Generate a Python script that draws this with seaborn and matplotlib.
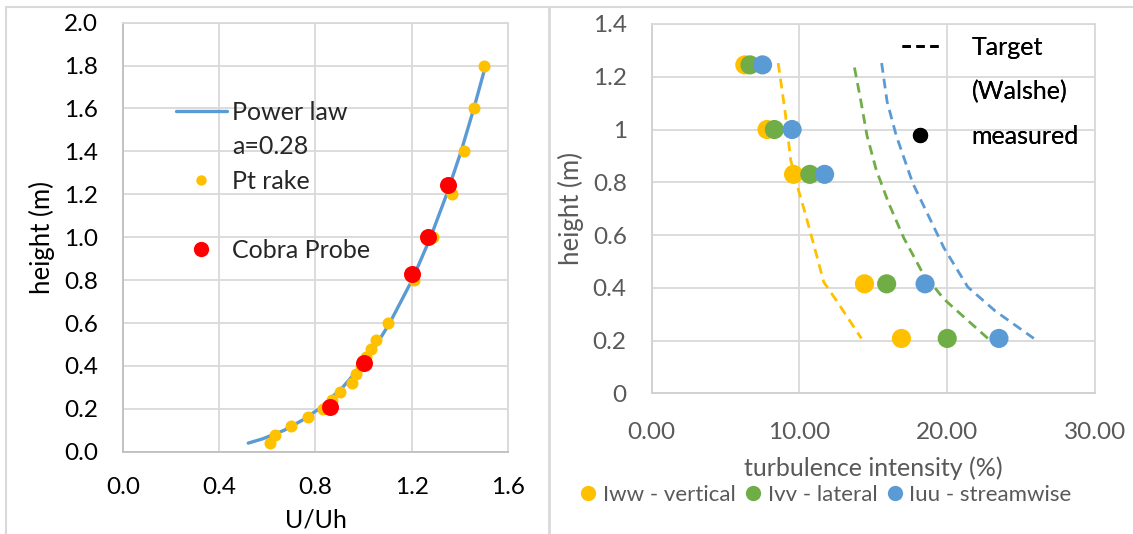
import matplotlib.pyplot as plt
import matplotlib.lines as mlines
import pandas as pd
import seaborn as sns

# Left chart: velocity profile
rake_u = [0.61, 0.63, 0.70, 0.77, 0.83, 0.87, 0.90, 0.95, 0.97, 0.99, 1.01, 1.03, 1.05,
          1.10, 1.21, 1.29, 1.37, 1.42, 1.46, 1.50]
rake_z = [0.04, 0.08, 0.12, 0.16, 0.20, 0.24, 0.28, 0.32, 0.36, 0.40, 0.44, 0.48, 0.52,
          0.60, 0.80, 1.00, 1.20, 1.40, 1.60, 1.80]
cobra_u = [0.86, 1.00, 1.20, 1.27, 1.35]
cobra_z = [0.21, 0.415, 0.83, 1.00, 1.245]
power_u = [0.52, 0.58, 0.67, 0.75, 0.815, 0.913, 0.99, 1.054, 1.109, 1.202, 1.279,
           1.346, 1.406, 1.459, 1.508]
power_z = [0.04, 0.06, 0.10, 0.15, 0.20, 0.30, 0.40, 0.50, 0.60, 0.80, 1.00,
           1.20, 1.40, 1.60, 1.80]

# Right chart: turbulence intensity
heights = [1.245, 1.0, 0.83, 0.415, 0.208]
iww = [6.3, 7.8, 9.6, 14.4, 16.9]
ivv = [6.65, 8.3, 10.7, 15.9, 20.0]
iuu = [7.5, 9.5, 11.7, 18.5, 23.5]

target_w_z = [1.252, 1.067, 0.886, 0.796, 0.68, 0.538, 0.422, 0.345, 0.208]
target_w_i = [8.56, 9.03, 9.40, 9.80, 10.40, 11.09, 11.64, 12.58, 14.19]
target_v_z = [1.235, 1.119, 0.977, 0.848, 0.719, 0.59, 0.461, 0.357, 0.208]
target_v_i = [13.72, 14.12, 14.57, 15.19, 16.05, 17.05, 18.29, 19.78, 22.75]
target_u_z = [1.252, 1.106, 0.977, 0.796, 0.667, 0.551, 0.403, 0.312, 0.208]
target_u_i = [15.56, 15.93, 16.55, 17.67, 18.78, 19.78, 21.39, 23.25, 25.86]

YELLOW = '#FFC000'
GREEN = '#70AD47'
BLUE = '#5B9BD5'
RED = '#FF0000'
GRID = '#D9D9D9'
GREY_TXT = '#595959'

sns.set_theme(style='white')
plt.rcParams['font.family'] = ['Lato', 'DejaVu Sans']

fig = plt.figure(figsize=(11.33, 5.34), dpi=100)

# chart borders like two pasted excel charts
fig.add_artist(mlines.Line2D([6 / 1133, 1], [1 - 6.7 / 534] * 2, color=GRID, lw=1.5))
fig.add_artist(mlines.Line2D([6.4 / 1133] * 2, [0, 1 - 6.7 / 534], color=GRID, lw=1.5))
fig.add_artist(mlines.Line2D([549 / 1133] * 2, [0, 1 - 6.7 / 534], color=GRID, lw=2))

# ---- left chart ----
ax1 = fig.add_axes([123.3 / 1133, 1 - 451.7 / 534, 384.4 / 1133, 429 / 534])

df_power = pd.DataFrame({'u': power_u, 'z': power_z})
df_rake = pd.DataFrame({'u': rake_u, 'z': rake_z})
df_cobra = pd.DataFrame({'u': cobra_u, 'z': cobra_z})

sns.lineplot(data=df_power, x='u', y='z', sort=False, estimator=None, color=BLUE,
             lw=2.4, ax=ax1, zorder=3)
sns.scatterplot(data=df_rake, x='u', y='z', color=YELLOW, s=75, linewidth=0,
                ax=ax1, zorder=4)
sns.scatterplot(data=df_cobra, x='u', y='z', color=RED, s=150, linewidth=0,
                ax=ax1, zorder=5)

ax1.set_xlim(0, 1.6)
ax1.set_ylim(0, 2.0)
ax1.set_xticks([0, 0.4, 0.8, 1.2, 1.6])
ax1.set_yticks([i * 0.2 for i in range(11)])
ax1.xaxis.set_major_formatter(plt.FormatStrFormatter('%.1f'))
ax1.yaxis.set_major_formatter(plt.FormatStrFormatter('%.1f'))
ax1.grid(True, color=GRID, lw=1.3)
ax1.set_axisbelow(True)
for side in ['top', 'right']:
    ax1.spines[side].set_color(GRID)
    ax1.spines[side].set_linewidth(1.3)
for side in ['left', 'bottom']:
    ax1.spines[side].set_color('#BFBFBF')
    ax1.spines[side].set_linewidth(1.3)
ax1.tick_params(axis='both', length=0, labelsize=17.5, colors='black', pad=18)
ax1.set_xlabel('U/Uh', fontsize=18, color='black', labelpad=8)
ax1.set_ylabel('height (m)', fontsize=18.5, color='black', labelpad=6.5)

h_power = mlines.Line2D([], [], color=BLUE, lw=2.4)
h_blank = mlines.Line2D([], [], color='none')
h_rake = mlines.Line2D([], [], color=YELLOW, marker='o', ls='none', markersize=7.5, mew=0)
h_cobra = mlines.Line2D([], [], color=RED, marker='o', ls='none', markersize=11, mew=0)
ax1.legend([h_power, h_blank, h_rake, h_blank, h_cobra],
           ['Power law', 'a=0.28', 'Pt rake', '', 'Cobra Probe'],
           loc='upper left', bbox_to_anchor=(175.7 / 1133, 1 - 101 / 534),
           bbox_transform=fig.transFigure, frameon=False, fontsize=18,
           handlelength=2.05, handletextpad=0.2, labelspacing=0.46,
           borderpad=0, borderaxespad=0)

# ---- right chart ----
ax2 = fig.add_axes([651.7 / 1133, 1 - 393.3 / 534, 443.3 / 1133, 369.3 / 534])

df_meas = pd.DataFrame({
    'height': heights * 3,
    'intensity': iww + ivv + iuu,
    'component': ['Iww - vertical'] * 5 + ['Ivv - lateral'] * 5 + ['Iuu - streamwise'] * 5,
})
palette = {'Iww - vertical': YELLOW, 'Ivv - lateral': GREEN, 'Iuu - streamwise': BLUE}

for zs, xs, col in [(target_w_z, target_w_i, YELLOW),
                    (target_v_z, target_v_i, GREEN),
                    (target_u_z, target_u_i, BLUE)]:
    sns.lineplot(x=xs, y=zs, sort=False, estimator=None, color=col, lw=2,
                 ax=ax2, zorder=3, linestyle=(0, (3.5, 2.2)))

sns.scatterplot(data=df_meas, x='intensity', y='height', hue='component',
                palette=palette, s=190, linewidth=0, ax=ax2, zorder=4, legend=False)

ax2.set_xlim(0, 30)
ax2.set_ylim(0, 1.4)
ax2.set_xticks([0, 10, 20, 30])
ax2.set_yticks([0, 0.2, 0.4, 0.6, 0.8, 1.0, 1.2, 1.4])
ax2.set_xticklabels(['0.00', '10.00', '20.00', '30.00'])
ax2.set_yticklabels(['0', '0.2', '0.4', '0.6', '0.8', '1', '1.2', '1.4'])
ax2.grid(True, color=GRID, lw=1.3)
ax2.set_axisbelow(True)
for side in ['top', 'right']:
    ax2.spines[side].set_color(GRID)
    ax2.spines[side].set_linewidth(1.3)
for side in ['left', 'bottom']:
    ax2.spines[side].set_color('#D0D0D0')
    ax2.spines[side].set_linewidth(1.3)
ax2.tick_params(axis='both', length=0, labelsize=17.5, colors=GREY_TXT)
ax2.tick_params(axis='y', pad=18)
ax2.tick_params(axis='x', pad=20.5)
ax2.set_xlabel('turbulence intensity (%)', fontsize=18, color=GREY_TXT, labelpad=10)
ax2.set_ylabel('height (m)', fontsize=18.5, color=GREY_TXT, labelpad=6.5)

h_target = mlines.Line2D([], [], color='black', lw=2, linestyle=(0, (3, 2)))
h_meas = mlines.Line2D([], [], color='black', marker='o', ls='none', markersize=11, mew=0)
leg_top = ax2.legend([h_target, h_blank, h_meas], ['Target', '(Walshe)', 'measured'],
                     loc='upper left', bbox_to_anchor=(901.7 / 1133, 1 - 36 / 534),
                     bbox_transform=fig.transFigure, frameon=False, fontsize=18,
                     handlelength=1.5, handletextpad=1.3, labelspacing=0.85,
                     borderpad=0, borderaxespad=0)
for t in leg_top.get_texts():
    t.set_color('black')
ax2.add_artist(leg_top)

comp_handles = [mlines.Line2D([], [], color=c, marker='o', ls='none', markersize=11, mew=0)
                for c in [YELLOW, GREEN, BLUE]]
leg_bot = fig.legend(comp_handles, list(palette.keys()), loc='center',
                     bbox_to_anchor=(826 / 1133, 1 - 495 / 534), ncol=3, frameon=False,
                     fontsize=16, handlelength=0.7, handletextpad=0.3, columnspacing=0.45,
                     borderpad=0)
for t in leg_bot.get_texts():
    t.set_color(GREY_TXT)

fig.savefig('out.png', dpi=100)
